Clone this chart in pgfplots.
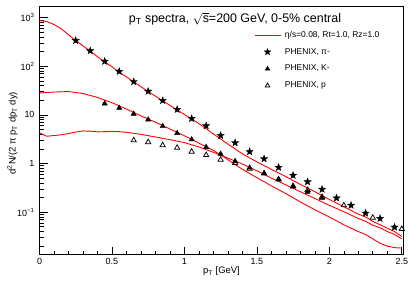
\documentclass[border=0pt]{standalone}
\usepackage{fontspec}
\setmainfont{Liberation Sans}
\usepackage{pgfplots}
\pgfplotsset{compat=1.18}
\usetikzlibrary{plotmarks}

\pgfdeclareplotmark{fstar}{%
  \pgfpathmoveto{\pgfpointpolar{90}{\pgfplotmarksize}}%
  \pgfpathlineto{\pgfpointpolar{126}{0.42\pgfplotmarksize}}%
  \pgfpathlineto{\pgfpointpolar{162}{\pgfplotmarksize}}%
  \pgfpathlineto{\pgfpointpolar{198}{0.42\pgfplotmarksize}}%
  \pgfpathlineto{\pgfpointpolar{234}{\pgfplotmarksize}}%
  \pgfpathlineto{\pgfpointpolar{270}{0.42\pgfplotmarksize}}%
  \pgfpathlineto{\pgfpointpolar{306}{\pgfplotmarksize}}%
  \pgfpathlineto{\pgfpointpolar{342}{0.42\pgfplotmarksize}}%
  \pgfpathlineto{\pgfpointpolar{18}{\pgfplotmarksize}}%
  \pgfpathlineto{\pgfpointpolar{54}{0.42\pgfplotmarksize}}%
  \pgfpathclose\pgfusepathqfillstroke}

\begin{document}
\begin{tikzpicture}
\begin{axis}[
  scale only axis, width=364bp, height=248bp,
  xmin=0, xmax=2.512, ymode=log, ymin=0.0133, ymax=1680,
  axis line style={line width=0.7pt},
  tick align=inside, xtick pos=bottom, ytick pos=left,
  xtick={0,0.5,1,1.5,2,2.5}, xticklabels={0,0.5,1,1.5,2,2.5},
  minor xtick={0.1,0.2,0.3,0.4,0.6,0.7,0.8,0.9,1.1,1.2,1.3,1.4,1.6,1.7,1.8,1.9,2.1,2.2,2.3,2.4},
  ytick={0.1,1,10,100,1000},
  yticklabels={10\textsuperscript{−1},1,10,10\textsuperscript{2},10\textsuperscript{3}},
  minor ytick={0.02,0.03,0.04,0.05,0.06,0.07,0.08,0.09,0.2,0.3,0.4,0.5,0.6,0.7,0.8,0.9,2,3,4,5,6,7,8,9,20,30,40,50,60,70,80,90,200,300,400,500,600,700,800,900},
  major tick length=8bp, minor tick length=4bp,
  tick style={black, line width=0.6pt},
  ticklabel style={font=\fontsize{9}{10}\selectfont},
  yticklabel style={xshift=-1.5bp},
  /pgf/number format/assume math mode=true,
  xlabel={p\textsubscript{T} [GeV]},
  every axis x label/.style={font=\fontsize{9.5}{11}\selectfont, at={(rel axis cs:0.5,0)}, anchor=base, yshift=-19bp},
  ylabel={d\textsuperscript{2}N/(2 π p\textsubscript{T} dp\textsubscript{T} dy)},
  every axis y label/.style={font=\fontsize{9.5}{11}\selectfont, at={(rel axis cs:0,0.49)}, xshift=-27bp, rotate=90, anchor=center},
  legend style={at={(rel axis cs:0.589,0.91)}, anchor=north west, draw=none, fill=none,
    font=\fontsize{8.5}{9.5}\selectfont, row sep=5.5bp, inner sep=0pt, column sep=2bp},
  legend cell align=left,
]
\coordinate (ll) at (rel axis cs:0,0);
\coordinate (ur) at (rel axis cs:1,1);

% pion curve
\addplot[red, line width=0.9pt, legend image code/.code={\draw[red, line width=0.9pt] (0bp,0bp) -- (26bp,0bp);}] coordinates {
(0,871) (0.05,832) (0.1,724) (0.15,589) (0.2,447) (0.25,339) (0.3,263) (0.35,204) (0.4,158) (0.45,123)
(0.5,97.7) (0.55,75.9) (0.6,60.3) (0.65,47.9) (0.7,38.0) (0.75,30.2) (0.8,24.3) (0.85,19.5) (0.9,15.7) (0.95,12.6)
(1.0,10.2) (1.1,6.61) (1.2,4.07) (1.3,2.51) (1.4,1.58) (1.5,1.08) (1.6,0.759) (1.7,0.537) (1.8,0.372) (1.9,0.263)
(2.0,0.182) (2.1,0.129) (2.2,0.0912) (2.25,0.0794) (2.3,0.0646) (2.35,0.055) (2.4,0.0468) (2.45,0.0398) (2.5,0.0316)};
\addlegendentry{η/s=0.08, Rt=1.0, Rz=1.0}

\addplot[only marks, mark=fstar, mark size=3.7bp, black, legend image code/.code={\draw[black, mark=fstar, mark size=3.4bp] plot coordinates {(13bp,0bp)};}] coordinates {
(0.25,338) (0.35,208) (0.45,126) (0.55,78.2) (0.65,48.1) (0.75,30.5) (0.85,19.7) (0.95,12.9) (1.05,8.4) (1.15,5.96)
(1.25,3.77) (1.35,2.67) (1.45,1.75) (1.55,1.25) (1.65,0.83) (1.75,0.57) (1.85,0.42) (1.95,0.294) (2.05,0.195) (2.15,0.138)
(2.25,0.095) (2.35,0.074) (2.45,0.049)};
\addlegendentry{PHENIX, π-}

\addplot[only marks, mark=triangle*, mark size=3bp, black, legend image code/.code={\draw[black, mark=triangle*, mark size=2.6bp] plot coordinates {(13bp,0bp)};}] coordinates {
(0.45,17.1) (0.55,13.9) (0.65,10.5) (0.75,8.0) (0.85,5.85) (0.95,4.2) (1.05,3.12) (1.15,2.17) (1.25,1.58) (1.35,1.12)
(1.45,0.82) (1.55,0.63) (1.65,0.47) (1.75,0.335) (1.85,0.26) (1.95,0.195)};
\addlegendentry{PHENIX, K-}

\addplot[only marks, mark=triangle, mark size=3bp, black, mark options={line width=0.75pt}, legend image code/.code={\draw[black, mark=triangle, mark size=2.6bp, mark options={line width=0.75pt}] plot coordinates {(13bp,0bp)};}] coordinates {
(0.65,3.0) (0.75,2.75) (0.85,2.38) (0.95,2.11) (1.05,1.75) (1.15,1.49) (1.25,1.2) (1.35,1.02) (1.45,0.78) (1.55,0.62)
(1.65,0.47) (1.75,0.344) (1.85,0.285) (1.95,0.205) (2.1,0.138) (2.3,0.077) (2.5,0.045)};
\addlegendentry{PHENIX, p}

% kaon curve
\addplot[red, line width=0.9pt, forget plot] coordinates {
(0,28.2) (0.1,29.5) (0.2,30.2) (0.3,27.5) (0.4,22.9) (0.5,17.8) (0.6,13.2) (0.7,9.55) (0.8,7.08) (0.9,5.13)
(1.0,3.72) (1.1,2.63) (1.2,1.86) (1.3,1.20) (1.4,0.759) (1.5,0.513) (1.6,0.347) (1.7,0.240) (1.8,0.162) (1.9,0.112)
(2.0,0.0794) (2.1,0.055) (2.2,0.0398) (2.25,0.0347) (2.3,0.0282) (2.35,0.0229) (2.4,0.0200) (2.45,0.0186) (2.5,0.0182)};

% proton curve
\addplot[red, line width=0.9pt, forget plot] coordinates {
(0,4.27) (0.05,3.63) (0.1,3.76) (0.15,3.89) (0.2,4.12) (0.25,4.42) (0.3,4.68) (0.35,4.62) (0.4,4.47) (0.45,4.52)
(0.5,4.57) (0.55,4.52) (0.6,4.37) (0.7,3.98) (0.8,3.51) (0.9,3.09) (1.0,2.69) (1.1,2.19) (1.2,1.70) (1.3,1.29)
(1.4,0.977) (1.5,0.708) (1.6,0.501) (1.7,0.363) (1.8,0.263) (1.9,0.191) (2.0,0.138) (2.1,0.102) (2.2,0.0741)
(2.25,0.0646) (2.3,0.0537) (2.35,0.0479) (2.4,0.0398) (2.45,0.0347) (2.5,0.0282)};

\node[font=\fontsize{12.5}{14}\selectfont, anchor=base] at (rel axis cs:0.537,0.935)
  {p\textsubscript{T} spectra, $\sqrt{\mbox{s}}$=200 GeV, 0-5\% central};
\end{axis}
\pgfresetboundingbox
\path[use as bounding box] ([shift={(-39.5bp,-26bp)}]ll) rectangle ([shift={(5.5bp,6.7bp)}]ur);
\end{tikzpicture}
\end{document}
